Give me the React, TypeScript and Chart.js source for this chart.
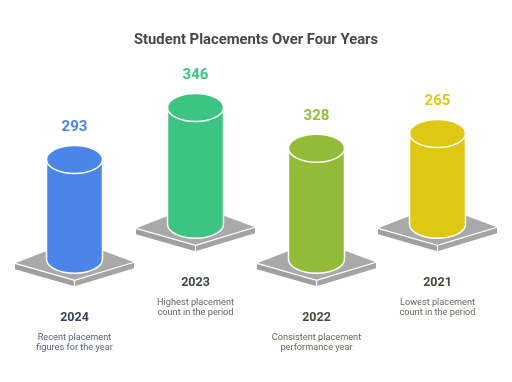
import React, { useEffect, useRef } from "react";
import { Chart, registerables } from "chart.js";

Chart.register(...registerables);

const chartTitle = "Student Placements Over Four Years";
const categories = ["2024", "2023", "2022", "2021"];
const placements = [293, 346, 328, 265];
const descriptions = [
  ["Recent placement", "figures for the year"],
  ["Highest placement", "count in the period"],
  ["Consistent placement", "performance year"],
  ["Lowest placement", "count in the period"],
];

const barColors = ["#4a86e8", "#3cc483", "#92bb37", "#dfc813"];
const yearColors = ["#3b4257", "#3f4a44", "#4a4a3c", "#4a4838"];
const descColors = ["#5c6273", "#5e6860", "#66675c", "#6a695c"];

const FONT = "Roboto, 'Noto Sans', sans-serif";

const cylinderPlugin = {
  id: "cylinders",
  afterDatasetsDraw(chart: any) {
    const ctx: CanvasRenderingContext2D = chart.ctx;
    const meta = chart.getDatasetMeta(0);
    ctx.save();
    // title
    ctx.fillStyle = "#474747";
    ctx.font = `bold 14.8px ${FONT}`;
    ctx.textAlign = "center";
    ctx.textBaseline = "middle";
    ctx.fillText(chartTitle, chart.width / 2, 40);

    meta.data.forEach((bar: any, i: number) => {
      const p = bar.getProps(["x", "y", "base", "width"], true);
      const lift = i % 2 ? 35 : 0;
      const cx = p.x;
      const topY = p.y - lift;
      const botY = p.base - lift;
      const rx = p.width / 2;
      const ry = 14;

      // platform
      const T = [cx, botY - 19];
      const R = [cx + 59.5, botY + 3];
      const B = [cx, botY + 21];
      const L = [cx - 59.5, botY + 4];
      const d = 6;
      const poly = (pts: number[][], fill: string) => {
        ctx.beginPath();
        ctx.moveTo(pts[0][0], pts[0][1]);
        for (let k = 1; k < pts.length; k++) ctx.lineTo(pts[k][0], pts[k][1]);
        ctx.closePath();
        ctx.fillStyle = fill;
        ctx.fill();
      };
      poly([L, B, [B[0], B[1] + d], [L[0], L[1] + d]], "#9f9f9f");
      poly([B, R, [R[0], R[1] + d], [B[0], B[1] + d]], "#a4a4a4");
      poly([T, R, B, L], "#a9a9a9");
      ctx.strokeStyle = "#ffffff";
      ctx.lineWidth = 1.2;
      ctx.beginPath();
      ctx.moveTo(L[0], L[1]);
      ctx.lineTo(B[0], B[1]);
      ctx.lineTo(R[0], R[1]);
      ctx.moveTo(B[0], B[1]);
      ctx.lineTo(B[0], B[1] + d);
      ctx.stroke();

      // cylinder body
      const color = barColors[i];
      ctx.beginPath();
      ctx.moveTo(cx - rx, topY);
      ctx.lineTo(cx - rx, botY);
      ctx.ellipse(cx, botY, rx, ry, 0, Math.PI, 0, true);
      ctx.lineTo(cx + rx, topY);
      ctx.ellipse(cx, topY, rx, ry, 0, 0, Math.PI, true);
      ctx.closePath();
      ctx.fillStyle = color;
      ctx.fill();
      ctx.strokeStyle = "#ffffff";
      ctx.lineWidth = 1.5;
      ctx.stroke();
      // top cap
      ctx.beginPath();
      ctx.ellipse(cx, topY, rx, ry, 0, 0, Math.PI * 2);
      ctx.fillStyle = color;
      ctx.fill();
      ctx.stroke();

      // value label
      ctx.fillStyle = color;
      ctx.font = `bold 15px ${FONT}`;
      ctx.textAlign = "center";
      ctx.textBaseline = "middle";
      ctx.fillText(String(placements[i]), cx, topY - ry - 18);

      // year + description
      ctx.fillStyle = yearColors[i];
      ctx.font = `bold 12.5px ${FONT}`;
      ctx.fillText(categories[i], cx, botY + 58.5);
      ctx.fillStyle = descColors[i];
      ctx.font = `9.2px ${FONT}`;
      descriptions[i].forEach((line, k) => {
        ctx.fillText(line, cx, botY + 78.2 + k * 10.4);
      });
    });
    ctx.restore();
  },
};

export default function App() {
  const ref = useRef<HTMLCanvasElement | null>(null);
  useEffect(() => {
    if (!ref.current) return;
    const chart = new Chart(ref.current, {
      type: "bar",
      data: {
        labels: categories,
        datasets: [
          {
            data: placements,
            backgroundColor: "rgba(0,0,0,0)",
            borderWidth: 0,
            base: -18,
            barThickness: 56,
          } as any,
        ],
      },
      options: {
        responsive: false,
        animation: false,
        layout: { padding: { left: 14, right: 14, top: 93, bottom: 122.7 } },
        plugins: { legend: { display: false }, tooltip: { enabled: false }, title: { display: false } },
        scales: {
          x: { display: false },
          y: { display: false, min: -18, max: 500 },
        },
      },
      plugins: [cylinderPlugin],
    });
    return () => chart.destroy();
  }, []);
  return (
    <div style={{ position: "fixed", left: 0, top: 0, width: 512, height: 382, background: "#ffffff" }}>
      <canvas ref={ref} width={512} height={382} style={{ display: "block" }} />
    </div>
  );
}
